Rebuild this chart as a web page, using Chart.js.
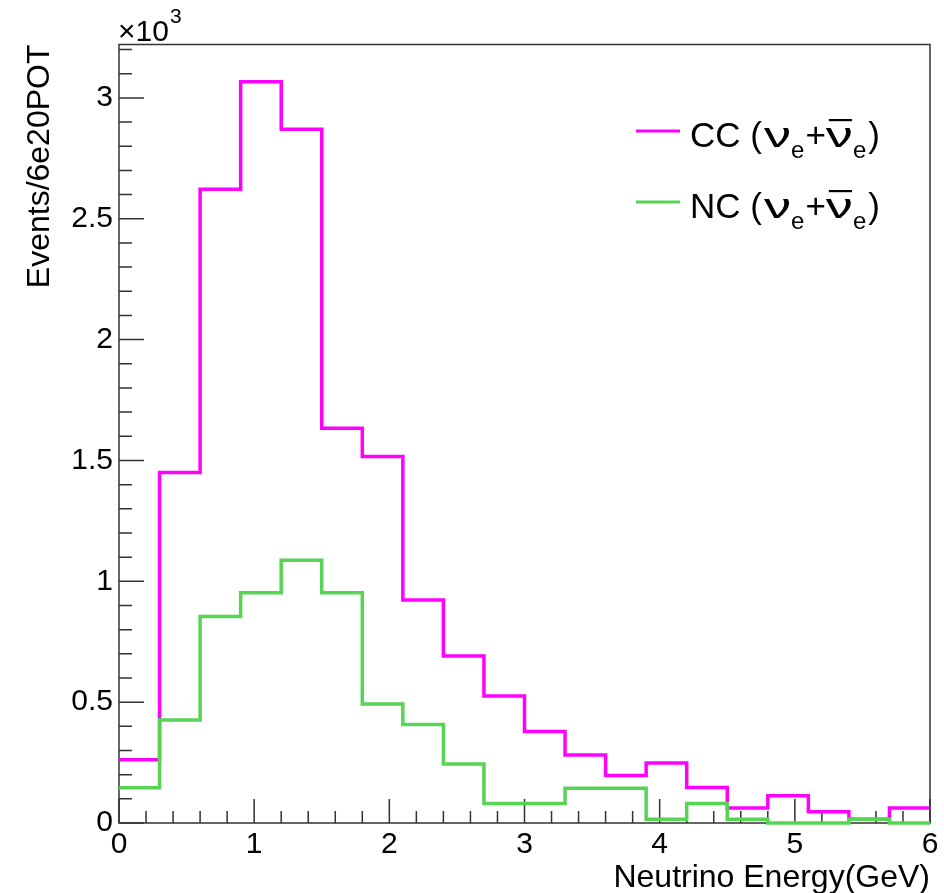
<!DOCTYPE html>
<html lang="en">
<head>
<meta charset="UTF-8">
<title>Neutrino Energy</title>
<script src="https://cdn.jsdelivr.net/npm/chart.js"></script>
<style>
  body { margin: 0; background: #fff; }
  #wrap { width: 944px; height: 893px; }
</style>
</head>
<body>
<div id="wrap"><canvas id="energyChart" width="944" height="893"></canvas></div>
<script>
  // bin edges (GeV), 0.3 GeV wide bins
  const energyEdges = [0, 0.3, 0.6, 0.9, 1.2, 1.5, 1.8, 2.1, 2.4, 2.7, 3.0,
                       3.3, 3.6, 3.9, 4.2, 4.5, 4.8, 5.1, 5.4, 5.7, 6.0];
  // events / 6e20 POT per bin
  const ccEvents = [262, 1450, 2622, 3067, 2870, 1633, 1516, 923, 691, 525,
                    379, 281, 197, 248, 147, 62, 113, 47, 15, 62];
  const ncEvents = [146, 426, 854, 953, 1087, 953, 492, 408, 244, 81,
                    81, 144, 144, 16, 81, 16, 0, 0, 16, 0];
  const xTickValues = [0, 1, 2, 3, 4, 5, 6];
  const yTickValues = [0, 500, 1000, 1500, 2000, 2500, 3000];
  const seriesNames = ['CC', 'NC'];
  const seriesColors = ['#ff00ff', '#57d454'];

  const FONT = '"Liberation Sans", Arial, Helvetica, sans-serif';
  const Y_MAX = 3221;

  // histogram as a step line: each left edge carries its bin value, last edge repeats the last bin
  function histPoints(values) {
    return energyEdges.map((x, i) => ({ x: x, y: values[Math.min(i, values.length - 1)] }));
  }

  // frame + ROOT-like inward ticks (major and minor)
  const framePlugin = {
    id: 'frame',
    beforeDatasetsDraw(chart) {
      const { ctx, chartArea: a, scales: { x, y } } = chart;
      ctx.save();
      ctx.strokeStyle = '#333';
      ctx.lineWidth = 1.5;
      ctx.strokeRect(a.left, a.top, a.right - a.left, a.bottom - a.top);
      ctx.beginPath();
      for (let i = 0; i <= 30; i++) {
        const px = x.getPixelForValue(i * 0.2);
        const len = i % 5 === 0 ? 24 : 12;
        ctx.moveTo(px, a.bottom);
        ctx.lineTo(px, a.bottom - len);
      }
      for (let i = 0; i * 100 <= Y_MAX; i++) {
        const py = y.getPixelForValue(i * 100);
        const len = i % 5 === 0 ? 25 : 13;
        ctx.moveTo(a.left, py);
        ctx.lineTo(a.left + len, py);
      }
      ctx.stroke();
      ctx.restore();
    },
    afterDraw(chart) {
      const { ctx, chartArea: a } = chart;
      ctx.save();
      ctx.fillStyle = '#000';
      ctx.textBaseline = 'alphabetic';
      // x10^3 exponent
      ctx.font = '30px ' + FONT;
      ctx.fillText('\u00d710', a.left - 1, a.top - 4);
      const w = ctx.measureText('\u00d710').width;
      ctx.font = '21px ' + FONT;
      ctx.fillText('3', a.left + w, a.top - 22);

      // legend
      const rows = [147, 218];
      seriesNames.forEach((name, k) => {
        const base = rows[k];
        ctx.strokeStyle = seriesColors[k];
        ctx.lineWidth = 3;
        ctx.beginPath();
        ctx.moveTo(636, base - 16);
        ctx.lineTo(680, base - 16);
        ctx.stroke();
        drawLabel(ctx, 690, base, name);
      });
      ctx.restore();
    }
  };

  function drawLabel(ctx, x, y, main) {
    const big = '35px ' + FONT;
    const small = '24px ' + FONT;
    let cx = x;
    const put = (txt, font, dy, sx) => {
      sx = sx || 1;
      ctx.font = font;
      ctx.save();
      ctx.translate(cx, y + dy);
      ctx.scale(sx, 1);
      ctx.fillText(txt, 0, 0);
      ctx.restore();
      const w = ctx.measureText(txt).width * sx;
      cx += w;
      return w;
    };
    put(main + ' (', big, 0);
    cx += 2;
    put('\u03bd', big, 0, 1.55);
    put('e', small, 11);
    cx += 1;
    put('+', big, 0);
    const nuX = cx;
    const nuW = put('\u03bd', big, 0, 1.55);
    ctx.fillRect(nuX + 3, y - 28, nuW - 4, 2.2);
    put('e', small, 11);
    cx += 2;
    put(')', big, 0);
  }

  const ctx = document.getElementById('energyChart').getContext('2d');
  new Chart(ctx, {
    type: 'line',
    data: {
      datasets: [
        {
          label: seriesNames[0],
          data: histPoints(ccEvents),
          borderColor: seriesColors[0],
          borderWidth: 3.5,
          stepped: true,
          pointRadius: 0,
          fill: false,
          clip: 6,
          order: 1
        },
        {
          label: seriesNames[1],
          data: histPoints(ncEvents),
          borderColor: seriesColors[1],
          borderWidth: 3.5,
          stepped: true,
          pointRadius: 0,
          fill: false,
          clip: 6,
          order: 0
        }
      ]
    },
    options: {
      responsive: false,
      animation: false,
      layout: { padding: { top: 44.5, right: 14, bottom: 0, left: 0 } },
      plugins: {
        legend: { display: false },
        tooltip: { enabled: false }
      },
      scales: {
        x: {
          type: 'linear',
          min: 0,
          max: 6,
          grid: { display: false, drawTicks: false },
          border: { display: false },
          ticks: {
            padding: 4,
            maxRotation: 0,
            autoSkip: false,
            color: '#000',
            font: { family: FONT, size: 30 }
          },
          afterBuildTicks(scale) { scale.ticks = xTickValues.map(v => ({ value: v })); },
          title: {
            display: true,
            text: 'Neutrino Energy(GeV)',
            align: 'end',
            color: '#000',
            padding: 0,
            font: { family: FONT, size: 32, lineHeight: 0.9 }
          },
          afterFit(scale) { scale.height = 70; }
        },
        y: {
          type: 'linear',
          min: 0,
          max: Y_MAX,
          grid: { display: false, drawTicks: false },
          border: { display: false },
          ticks: {
            padding: 6,
            autoSkip: false,
            color: '#000',
            font: { family: FONT, size: 30 },
            callback: v => String(v / 1000)
          },
          afterBuildTicks(scale) { scale.ticks = yTickValues.map(v => ({ value: v })); },
          title: {
            display: true,
            text: 'Events/6e20POT',
            align: 'end',
            color: '#000',
            padding: { top: 21, bottom: 0 },
            font: { family: FONT, size: 32, lineHeight: 1.2 }
          },
          afterFit(scale) { scale.width = 119; }
        }
      }
    },
    plugins: [framePlugin]
  });
</script>
</body>
</html>
